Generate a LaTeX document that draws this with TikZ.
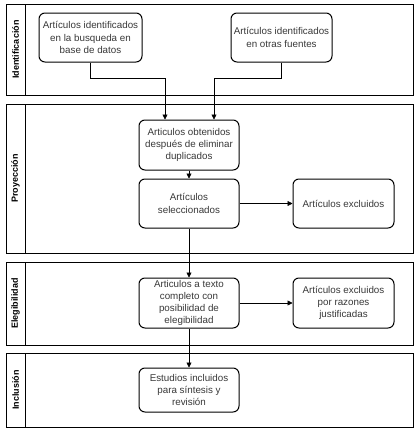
\documentclass[tikz,border=0pt]{standalone}
\usepackage{fontspec}
\setmainfont{Liberation Sans}
\usetikzlibrary{positioning, arrows.meta}

\begin{document}
\begin{tikzpicture}[x=1pt, y=-1pt,
  font=\fontsize{9.8}{12.2}\selectfont,
  stepbox/.style={draw, line width=1pt, rounded corners=6pt, align=center,
    minimum width=100pt, minimum height=49pt, inner sep=1pt, text=black!78},
  lanebox/.style={draw, line width=1pt},
  lanelabel/.style={rotate=90, font=\bfseries\fontsize{9}{10}\selectfont},
  arr/.style={-{Triangle[width=5pt,length=5pt]}, line width=0.6pt}]
\useasboundingbox (0,0) rectangle (420,434);
\def\laneleft{6}
\def\laneright{413}
\def\headright{25}

% lanes
\foreach \ltop/\lbot/\lname in {4/95/Identificación, 104/253/Proyección,
    262/345/Elegibilidad, 353/427/Inclusión}{
  \draw[lanebox] (\laneleft,\ltop) rectangle (\laneright,\lbot);
  \draw[lanebox] (\headright,\ltop) -- (\headright,\lbot);
  \node[lanelabel] at (15.5,{(\ltop+\lbot)/2}) {\lname};
}

% boxes
\node[stepbox, minimum width=103pt] (busq) at (90.5,37.5)
  {Artículos identificados\\en la busqueda en\\base de datos};
\node[stepbox, minimum width=101pt] (otras) at (281.5,37.5)
  {Artículos identificados\\en otras fuentes};
\node[stepbox, minimum height=50pt] (obten) at (189,145)
  {Articulos obtenidos\\después de eliminar\\duplicados};
\node[stepbox] (selec) at (189,203.5) {Artículos\\seleccionados};
\node[stepbox, minimum width=101pt] (excl) at (343.5,203.5) {Artículos excluidos};
\node[stepbox, minimum height=50pt] (texto) at (189,303)
  {Articulos a texto\\completo con\\posibilidad de\\elegibilidad};
\node[stepbox, minimum width=101pt, minimum height=50pt] (razon) at (343.5,303)
  {Artículos excluidos\\por razones\\justificadas};
\node[stepbox, minimum height=44pt] (incl) at (189,390)
  {Estudios incluidos\\para síntesis y\\revisión};

% connectors
\coordinate (jbusq) at (165,78);
\coordinate (jotras) at (214,78);
\draw[arr] (busq.south) |- (jbusq) -- (jbusq |- obten.north);
\draw[arr] (otras.south) |- (jotras) -- (jotras |- obten.north);
\draw[arr] (obten) -- (selec);
\draw[arr] (selec) -- (excl);
\draw[arr] (selec) -- (texto);
\draw[arr] (texto) -- (razon);
\draw[arr] (texto) -- (incl);
\end{tikzpicture}
\end{document}
